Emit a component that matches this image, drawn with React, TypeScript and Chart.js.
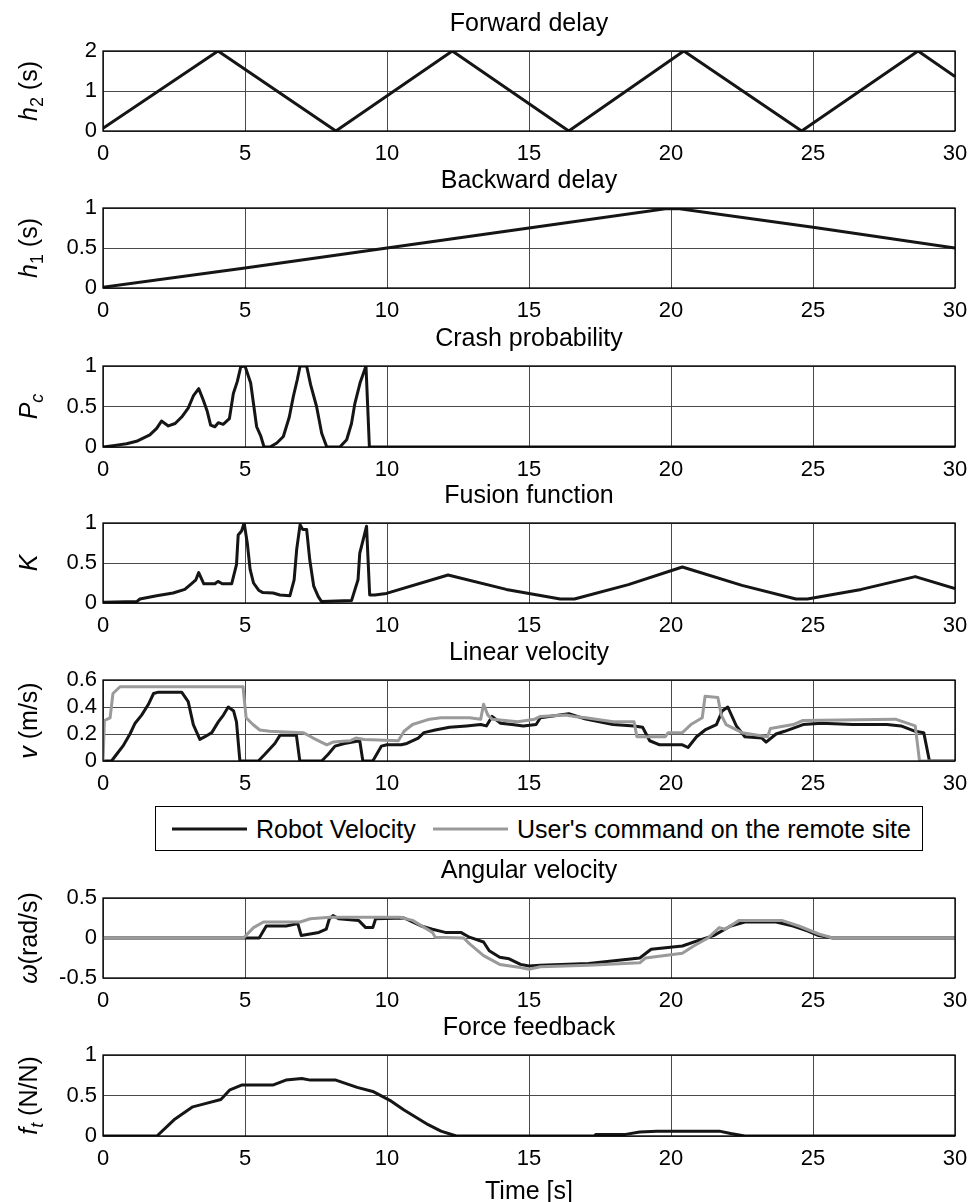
import React, { useEffect, useRef } from "react";
import { Chart, registerables } from "chart.js";
Chart.register(...registerables);

const FONT = "'Liberation Sans', Arial, Helvetica, sans-serif";
const BLACK = "#151515";
const GRAY = "#9a9a9a";

// ---- x ticks (time axis) ----
const timeTicks = [0, 5, 10, 15, 20, 25, 30];

// ---- Forward delay h2 ----
const fdT = [0, 4.05, 8.2, 12.3, 16.4, 20.45, 24.6, 28.7, 30];
const fdV = [0.07, 2, 0, 2, 0, 2, 0, 2, 1.36];

// ---- Backward delay h1 ----
const bdT = [0, 5, 10, 15, 19.8, 20.3, 25, 30];
const bdV = [0.01, 0.25, 0.5, 0.75, 0.99, 0.99, 0.76, 0.5];

// ---- Crash probability Pc ----
const pcT = [0, 0.42, 0.83, 1.18, 1.65, 1.89, 2.06, 2.3, 2.54, 2.77, 3.0, 3.18, 3.37, 3.53, 3.67, 3.79, 3.94, 4.06, 4.23, 4.45, 4.59, 4.73, 4.85, 5.0, 5.2, 5.41, 5.56, 5.67, 5.88, 6.12, 6.35, 6.56, 6.7, 6.84, 6.94, 7.17, 7.31, 7.52, 7.7, 7.88, 8.34, 8.58, 8.75, 8.87, 9.05, 9.26, 9.38, 30];
const pcV = [0, 0.02, 0.04, 0.07, 0.15, 0.23, 0.32, 0.26, 0.29, 0.37, 0.48, 0.63, 0.72, 0.58, 0.44, 0.27, 0.25, 0.3, 0.28, 0.35, 0.66, 0.81, 0.99, 1.0, 0.79, 0.25, 0.13, 0, 0, 0.05, 0.13, 0.37, 0.62, 0.83, 1.0, 1.0, 0.77, 0.5, 0.17, 0, 0, 0.09, 0.29, 0.54, 0.79, 1.0, 0, 0];

// ---- Fusion function K ----
const kT = [0, 1.2, 1.3, 1.89, 2.47, 2.88, 3.11, 3.27, 3.37, 3.55, 3.94, 4.05, 4.2, 4.53, 4.7, 4.76, 4.88, 4.97, 5.08, 5.18, 5.3, 5.48, 5.63, 5.99, 6.23, 6.58, 6.73, 6.82, 6.94, 7.03, 7.17, 7.28, 7.42, 7.58, 7.69, 8.75, 8.98, 9.04, 9.16, 9.28, 9.39, 9.57, 9.98, 12.15, 14.2, 16.1, 16.6, 18.5, 20.4, 22.5, 24.4, 24.8, 26.7, 28.6, 30];
const kV = [0.01, 0.02, 0.05, 0.09, 0.125, 0.17, 0.24, 0.29, 0.38, 0.24, 0.24, 0.27, 0.24, 0.24, 0.48, 0.85, 0.9, 1.0, 0.75, 0.42, 0.25, 0.16, 0.13, 0.125, 0.1, 0.09, 0.29, 0.67, 0.98, 0.92, 0.92, 0.54, 0.21, 0.08, 0.02, 0.03, 0.29, 0.62, 0.79, 0.96, 0.1, 0.1, 0.12, 0.35, 0.17, 0.05, 0.05, 0.23, 0.45, 0.22, 0.05, 0.05, 0.17, 0.33, 0.18];

// ---- Linear velocity: robot ----
const vbT = [0, 0.3, 0.48, 0.7, 0.95, 1.13, 1.36, 1.6, 1.78, 1.95, 2.77, 3.0, 3.18, 3.41, 3.59, 3.83, 4.06, 4.24, 4.41, 4.6, 4.7, 4.82, 5.47, 5.7, 6.05, 6.23, 6.81, 6.93, 7.7, 7.93, 8.17, 8.5, 9.04, 9.15, 9.5, 9.8, 10.0, 10.5, 10.7, 11.1, 11.3, 11.7, 12.2, 12.8, 13.3, 13.5, 13.7, 14.0, 14.4, 14.8, 15.25, 15.4, 16.4, 17.0, 17.96, 18.7, 19.0, 19.25, 19.6, 20.4, 20.6, 20.9, 21.2, 21.6, 21.8, 22.0, 22.3, 22.6, 23.2, 23.35, 23.7, 24.0, 24.65, 25.3, 26.4, 27.6, 28.1, 28.6, 28.9, 29.1, 30];
const vbV = [0, 0, 0.05, 0.11, 0.2, 0.28, 0.34, 0.42, 0.5, 0.51, 0.51, 0.44, 0.27, 0.16, 0.18, 0.21, 0.29, 0.34, 0.4, 0.37, 0.29, 0, 0, 0.05, 0.13, 0.19, 0.19, 0, 0, 0.05, 0.11, 0.13, 0.15, 0, 0, 0.11, 0.12, 0.12, 0.13, 0.17, 0.21, 0.23, 0.25, 0.26, 0.27, 0.26, 0.33, 0.28, 0.27, 0.26, 0.27, 0.32, 0.35, 0.31, 0.27, 0.26, 0.25, 0.15, 0.12, 0.12, 0.1, 0.18, 0.23, 0.27, 0.37, 0.4, 0.26, 0.18, 0.17, 0.14, 0.2, 0.22, 0.27, 0.28, 0.27, 0.27, 0.26, 0.22, 0.21, 0, 0];

// ---- Linear velocity: user's command ----
const vgT = [0, 0.05, 0.25, 0.35, 0.6, 4.93, 5.04, 5.28, 5.52, 5.87, 7.05, 7.4, 7.88, 8.1, 8.7, 8.9, 9.2, 10.4, 10.6, 10.9, 11.5, 11.9, 12.9, 13.3, 13.4, 13.55, 13.7, 14.6, 15.2, 15.4, 16.3, 16.6, 17.0, 17.96, 18.7, 18.8, 19.8, 19.9, 20.4, 20.7, 21.1, 21.2, 21.65, 21.77, 21.94, 22.5, 23.4, 23.5, 24.3, 24.65, 27.9, 28.6, 28.75, 30];
const vgV = [0, 0.3, 0.32, 0.5, 0.55, 0.55, 0.32, 0.27, 0.23, 0.22, 0.21, 0.17, 0.12, 0.14, 0.15, 0.17, 0.16, 0.15, 0.22, 0.27, 0.31, 0.32, 0.32, 0.31, 0.42, 0.34, 0.31, 0.29, 0.31, 0.33, 0.34, 0.33, 0.32, 0.29, 0.29, 0.18, 0.18, 0.21, 0.21, 0.27, 0.32, 0.48, 0.47, 0.34, 0.27, 0.21, 0.18, 0.24, 0.27, 0.3, 0.31, 0.26, 0, 0];

// ---- Angular velocity: robot ----
const abT = [0, 5.5, 5.75, 6.45, 6.86, 6.98, 7.6, 7.86, 7.97, 8.1, 8.3, 9.0, 9.25, 9.5, 9.6, 10.6, 11.2, 11.6, 12.05, 12.6, 12.9, 13.4, 13.6, 13.97, 14.3, 14.7, 15.0, 15.4, 17.1, 18.9, 19.3, 20.4, 21.05, 21.5, 22.1, 22.6, 23.7, 24.3, 24.8, 25.2, 25.7, 30];
const abV = [0, 0, 0.15, 0.15, 0.18, 0.03, 0.07, 0.11, 0.24, 0.28, 0.24, 0.22, 0.13, 0.13, 0.24, 0.25, 0.15, 0.11, 0.07, 0.07, 0.01, -0.05, -0.16, -0.24, -0.26, -0.33, -0.35, -0.34, -0.32, -0.25, -0.14, -0.1, -0.02, 0.03, 0.15, 0.2, 0.2, 0.15, 0.09, 0.03, 0, 0];

// ---- Angular velocity: user's command ----
const agT = [0, 4.95, 5.3, 5.65, 6.94, 7.3, 8.0, 10.45, 10.9, 11.6, 11.7, 12.7, 12.9, 13.4, 13.97, 14.7, 15.0, 15.4, 17.1, 18.9, 19.1, 20.4, 20.8, 21.3, 21.7, 21.9, 22.4, 23.9, 24.5, 25.2, 25.7, 30];
const agV = [0, 0, 0.13, 0.2, 0.2, 0.24, 0.26, 0.26, 0.22, 0.07, 0.01, 0, -0.07, -0.22, -0.33, -0.37, -0.39, -0.36, -0.34, -0.31, -0.25, -0.19, -0.1, 0, 0.13, 0.11, 0.22, 0.22, 0.15, 0.05, 0, 0];

// ---- Force feedback ----
const ffT = [0, 1.9, 2.5, 3.16, 3.6, 4.15, 4.47, 4.9, 6.0, 6.44, 7.0, 7.3, 8.2, 8.95, 9.5, 10.15, 10.6, 11.45, 11.9, 12.44, 17.3, 17.35, 18.4, 18.9, 19.5, 21.7, 22.1, 22.6, 30];
const ffV = [0, 0, 0.2, 0.36, 0.4, 0.45, 0.57, 0.63, 0.63, 0.69, 0.71, 0.69, 0.69, 0.6, 0.55, 0.43, 0.32, 0.14, 0.06, 0, 0, 0.02, 0.02, 0.05, 0.06, 0.06, 0.03, 0, 0];

// ---- y tick sets ----
const ticks02 = [0, 1, 2];
const ticks01 = [0, 0.5, 1];
const ticksV = [0, 0.2, 0.4, 0.6];
const ticksW = [-0.5, 0, 0.5];

type Part = { text: string; italic?: boolean; sub?: boolean };
type Series = { t: number[]; v: number[]; color: string; order: number };
type PanelDef = {
  title: string;
  top: number;
  h: number;
  yTicks: number[];
  yLabel: Part[];
  series: Series[];
  xLabel?: string;
};

const PAD_TOP = 42;
const AX_H = 36;
const LEFT = 103;
const RIGHT_PAD = 16;
const W = 971;
const TICK_SIZE = 22;
const TITLE_SIZE = 25;

const panels: PanelDef[] = [
  { title: "Forward delay", top: 51, h: 80, yTicks: ticks02, yLabel: [{ text: "h", italic: true }, { text: "2", sub: true }, { text: " (s)" }], series: [{ t: fdT, v: fdV, color: BLACK, order: 0 }] },
  { title: "Backward delay", top: 208, h: 80, yTicks: ticks01, yLabel: [{ text: "h", italic: true }, { text: "1", sub: true }, { text: " (s)" }], series: [{ t: bdT, v: bdV, color: BLACK, order: 0 }] },
  { title: "Crash probability", top: 366, h: 81, yTicks: ticks01, yLabel: [{ text: "P", italic: true }, { text: "c", sub: true, italic: true }], series: [{ t: pcT, v: pcV, color: BLACK, order: 0 }] },
  { title: "Fusion function", top: 523, h: 80, yTicks: ticks01, yLabel: [{ text: "K", italic: true }], series: [{ t: kT, v: kV, color: BLACK, order: 0 }] },
  { title: "Linear velocity", top: 680, h: 81, yTicks: ticksV, yLabel: [{ text: "v", italic: true }, { text: " (m/s)" }], series: [{ t: vbT, v: vbV, color: BLACK, order: 1 }, { t: vgT, v: vgV, color: GRAY, order: 0 }] },
  { title: "Angular velocity", top: 898, h: 80, yTicks: ticksW, yLabel: [{ text: "\u03C9", italic: true }, { text: "(rad/s)" }], series: [{ t: abT, v: abV, color: BLACK, order: 1 }, { t: agT, v: agV, color: GRAY, order: 0 }] },
  { title: "Force feedback", top: 1055, h: 81, yTicks: ticks01, yLabel: [{ text: "f", italic: true }, { text: "t", sub: true, italic: true }, { text: " (N/N)" }], series: [{ t: ffT, v: ffV, color: BLACK, order: 0 }], xLabel: "Time [s]" },
];

function fmt(v: number): string {
  return String(Number(v.toFixed(3)));
}

function drawRich(ctx: CanvasRenderingContext2D, parts: Part[], cx: number, cy: number, size: number) {
  ctx.save();
  ctx.translate(cx, cy);
  ctx.rotate(-Math.PI / 2);
  ctx.textBaseline = "middle";
  ctx.textAlign = "left";
  const items = parts.map((p) => {
    const s = p.sub ? Math.round(size * 0.7) : size;
    const f = `${p.italic ? "italic " : ""}${s}px ${FONT}`;
    ctx.font = f;
    return { p, f, w: ctx.measureText(p.text).width };
  });
  const total = items.reduce((a, b) => a + b.w, 0);
  let x = -total / 2;
  for (const it of items) {
    ctx.font = it.f;
    ctx.fillText(it.p.text, x, it.p.sub ? size * 0.32 : 0);
    x += it.w;
  }
  ctx.restore();
}

function Panel({ def }: { def: PanelDef }) {
  const ref = useRef<HTMLCanvasElement | null>(null);
  const extra = def.xLabel ? 30 : 0;
  const height = PAD_TOP + def.h + AX_H + extra;

  useEffect(() => {
    const canvas = ref.current;
    if (!canvas) return;
    const yMin = def.yTicks[0];
    const yMax = def.yTicks[def.yTicks.length - 1];

    const decor = {
      id: "decor",
      afterDraw(chart: any) {
        const { ctx, chartArea } = chart;
        const { left, right, top, bottom } = chartArea;
        ctx.save();
        ctx.strokeStyle = "#000";
        ctx.lineWidth = 1.3;
        ctx.strokeRect(left, top, right - left, bottom - top);
        ctx.fillStyle = "#000";
        ctx.font = `${TITLE_SIZE}px ${FONT}`;
        ctx.textAlign = "center";
        ctx.textBaseline = "middle";
        ctx.fillText(def.title, (left + right) / 2, top - 27);
        if (def.xLabel) {
          ctx.fillText(def.xLabel, (left + right) / 2, bottom + 56);
        }
        drawRich(ctx, def.yLabel, 30, (top + bottom) / 2, 25);
        ctx.restore();
      },
    };

    const chart = new Chart(canvas, {
      type: "line",
      data: {
        datasets: def.series.map((s) => ({
          data: s.t.map((t, i) => ({ x: t, y: s.v[i] })),
          borderColor: s.color,
          backgroundColor: s.color,
          borderWidth: 3,
          pointRadius: 0,
          fill: false,
          tension: 0,
          order: s.order,
          borderJoinStyle: "round" as const,
        })),
      },
      options: {
        animation: false,
        responsive: false,
        maintainAspectRatio: false,
        devicePixelRatio: 1,
        layout: { padding: { left: 0, right: RIGHT_PAD, top: PAD_TOP, bottom: extra } },
        plugins: { legend: { display: false }, tooltip: { enabled: false }, title: { display: false } },
        scales: {
          x: {
            type: "linear",
            min: timeTicks[0],
            max: timeTicks[timeTicks.length - 1],
            afterBuildTicks: (scale: any) => {
              scale.ticks = timeTicks.map((v) => ({ value: v }));
            },
            afterFit: (scale: any) => {
              scale.height = AX_H;
              scale.paddingLeft = 0;
              scale.paddingRight = 0;
            },
            ticks: { color: "#000", font: { family: FONT, size: TICK_SIZE }, padding: 10, maxRotation: 0, autoSkip: false, callback: (v: any) => fmt(Number(v)) },
            grid: { color: "#4a4a4a", lineWidth: 1, drawTicks: false },
            border: { display: false },
          },
          y: {
            type: "linear",
            min: yMin,
            max: yMax,
            afterBuildTicks: (scale: any) => {
              scale.ticks = def.yTicks.map((v) => ({ value: v }));
            },
            afterFit: (scale: any) => {
              scale.width = LEFT;
              scale.paddingTop = 0;
              scale.paddingBottom = 0;
            },
            ticks: { color: "#000", font: { family: FONT, size: TICK_SIZE }, padding: 6, autoSkip: false, callback: (v: any) => fmt(Number(v)) },
            grid: { color: "#4a4a4a", lineWidth: 1, drawTicks: false },
            border: { display: false },
          },
        },
      },
      plugins: [decor],
    } as any);
    return () => chart.destroy();
  }, [def]);

  return (
    <canvas
      ref={ref}
      width={W}
      height={height}
      style={{ position: "absolute", left: 0, top: def.top - PAD_TOP, width: W, height, display: "block" }}
    />
  );
}

function Legend() {
  const base: React.CSSProperties = { position: "absolute", top: "50%", transform: "translateY(-50%)" };
  return (
    <div
      style={{
        position: "absolute",
        left: 155,
        top: 806,
        width: 768,
        height: 45,
        border: "1px solid #000",
        boxSizing: "border-box",
        background: "#fff",
        fontFamily: FONT,
        fontSize: 25,
        color: "#000",
        whiteSpace: "nowrap",
      }}
    >
      <div style={{ ...base, left: 16, width: 75, height: 3, background: BLACK }} />
      <div style={{ ...base, left: 100, lineHeight: "28px" }}>Robot Velocity</div>
      <div style={{ ...base, left: 277, width: 75, height: 3, background: GRAY }} />
      <div style={{ ...base, left: 361, lineHeight: "28px" }}>User's command on the remote site</div>
    </div>
  );
}

export default function App() {
  return (
    <div style={{ position: "absolute", left: 0, top: 0, width: W, height: 1202, background: "#fff", overflow: "hidden" }}>
      {panels.map((p, i) => (
        <Panel key={i} def={p} />
      ))}
      <Legend />
    </div>
  );
}
